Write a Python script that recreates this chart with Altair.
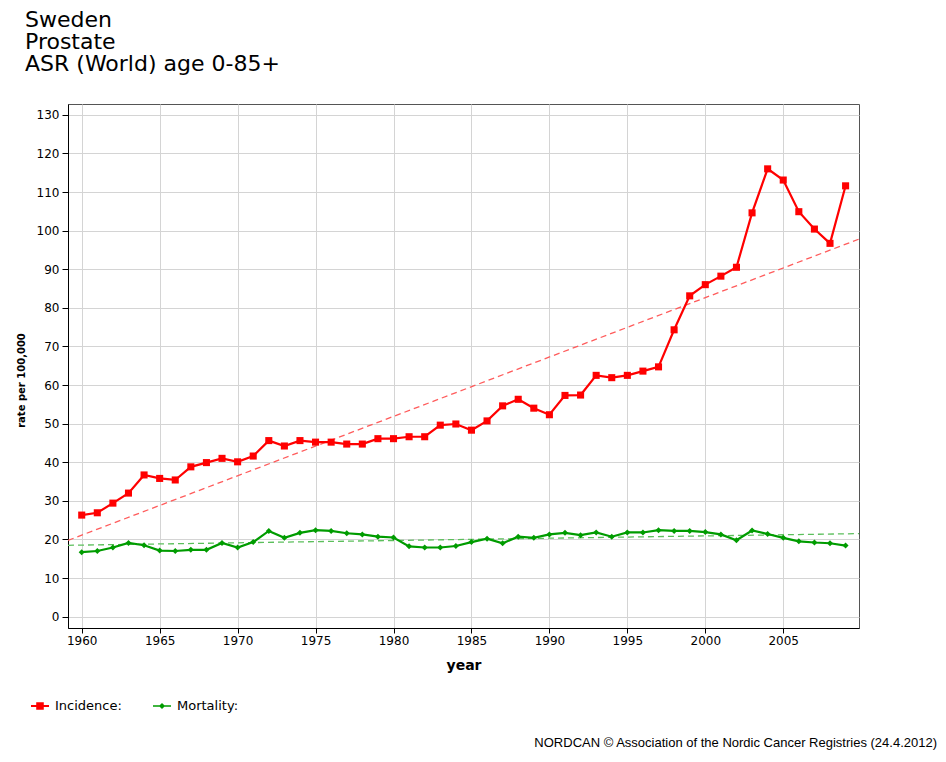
import altair as alt
import pandas as pd

# ---- data ----
years = list(range(1960, 2010))
incidence = [26.3, 26.9, 29.4, 32.0, 36.7, 35.8, 35.4, 38.8, 39.9, 41.0,
             40.1, 41.6, 45.6, 44.2, 45.6, 45.2, 45.2, 44.7, 44.7, 46.1,
             46.1, 46.6, 46.6, 49.6, 49.9, 48.3, 50.7, 54.6, 56.3, 54.0,
             52.3, 57.3, 57.4, 62.5, 61.9, 62.5, 63.6, 64.7, 74.3, 83.1,
             86.0, 88.2, 90.5, 104.6, 116.0, 113.1, 104.9, 100.4, 96.7, 111.6]
mortality = [16.7, 17.0, 17.9, 19.1, 18.5, 17.1, 17.0, 17.3, 17.3, 19.1,
             17.9, 19.3, 22.2, 20.4, 21.7, 22.4, 22.2, 21.6, 21.3, 20.7,
             20.5, 18.2, 17.9, 17.9, 18.3, 19.3, 20.2, 19.0, 20.7, 20.4,
             21.3, 21.7, 21.1, 21.8, 20.7, 21.8, 21.8, 22.4, 22.2, 22.2,
             21.9, 21.3, 19.8, 22.3, 21.4, 20.4, 19.5, 19.2, 19.0, 18.4]
series = ["Incidence", "Mortality"]
x_ticks = [1960, 1965, 1970, 1975, 1980, 1985, 1990, 1995, 2000, 2005]
y_ticks = [0, 10, 20, 30, 40, 50, 60, 70, 80, 90, 100, 110, 120, 130]
title_lines = ["Sweden", "Prostate", "ASR (World) age 0-85+"]
footer = ["NORDCAN \u00a9 Association of the Nordic Cancer Registries (24.4.2012)"]

df = pd.DataFrame({
    "year": years * 2,
    "rate": incidence + mortality,
    "series": [series[0]] * len(years) + [series[1]] * len(years),
})
legend_df = pd.DataFrame({"series": series})
footer_df = pd.DataFrame({"t": footer})

X_DOM = [1959.12, 2009.86]
Y_DOM = [-2.95, 132.8]
FONT = "DejaVu Sans"

x_enc = alt.X("year:Q",
              scale=alt.Scale(domain=X_DOM, nice=False, zero=False),
              axis=alt.Axis(values=x_ticks, format="d", title="year",
                            grid=True, gridColor="#d4d4d4", gridWidth=1,
                            domainColor="#000000", domainWidth=1,
                            tickColor="#000000", tickSize=5,
                            labelFont=FONT, labelFontSize=12, labelColor="#000000",
                            labelPadding=2, labelFlush=False,
                            titleFont=FONT, titleFontSize=14, titleFontWeight="bold",
                            titleColor="#000000", titlePadding=12))
y_enc = alt.Y("rate:Q",
              scale=alt.Scale(domain=Y_DOM, nice=False, zero=False),
              axis=alt.Axis(values=y_ticks, title="rate per 100,000",
                            grid=True, gridColor="#d4d4d4", gridWidth=1,
                            domainColor="#000000", domainWidth=1,
                            tickColor="#000000", tickSize=6,
                            labelFont=FONT, labelFontSize=12, labelColor="#000000",
                            labelPadding=3,
                            titleFont=FONT, titleFontSize=10, titleFontWeight="bold",
                            titleColor="#000000", titlePadding=10, titleY=276))

line_colors = alt.Scale(domain=series, range=["#ff0000", "#009c00"])
trend_colors = alt.Scale(domain=series, range=["#ff5c5c", "#5cbf5c"])

base = alt.Chart(df)

trend = base.transform_regression(
    "year", "rate", groupby=["series"], extent=X_DOM
).mark_line(strokeDash=[6, 4], strokeWidth=1.3, clip=True).encode(
    x=x_enc, y=y_enc,
    color=alt.Color("series:N", scale=trend_colors, legend=None),
)

lines = base.mark_line(strokeWidth=2.2, clip=True).encode(
    x=x_enc, y=y_enc,
    color=alt.Color("series:N", scale=line_colors, legend=None),
)

inc_pts = base.transform_filter(alt.datum.series == series[0]).mark_point(
    filled=True, opacity=1, shape="square", size=50, color="#ff0000"
).encode(x=x_enc, y=y_enc)

mort_pts = base.transform_filter(alt.datum.series == series[1]).mark_point(
    filled=True, opacity=1, shape="diamond", size=36, color="#009c00"
).encode(x=x_enc, y=y_enc)

path_inc = "M-1,-0.11H1V0.11H-1Z M-0.42,-0.42H0.42V0.42H-0.42Z"
path_mort = "M-1,-0.09H1V0.09H-1Z M0,-0.34L0.34,0L0,0.34L-0.34,0Z"

leg = alt.Legend(orient="none", legendX=-37, legendY=593, direction="horizontal",
                 title=None, symbolSize=324, symbolStrokeWidth=0,
                 labelFont=FONT, labelFontSize=13, labelColor="#000000",
                 labelExpr="datum.label + ':'", labelOffset=6,
                 columnPadding=31, padding=0)

legend_layer = alt.Chart(legend_df).transform_filter("false").mark_point(
    filled=True, opacity=1
).encode(
    color=alt.Color("series:N", scale=line_colors, legend=leg),
    shape=alt.Shape("series:N", scale=alt.Scale(domain=series, range=[path_inc, path_mort]),
                    legend=leg),
)

footer_layer = alt.Chart(footer_df).mark_text(
    align="right", baseline="alphabetic", font="Liberation Sans", fontSize=13, color="#000000"
).encode(text="t:N", x=alt.value(869), y=alt.value(643))

chart = alt.layer(trend, lines, inc_pts, mort_pts, legend_layer, footer_layer).resolve_scale(
    color="independent", shape="independent"
).properties(
    width=791, height=524,
    autosize=alt.AutoSizeParams(type="none"),
    padding={"left": 60, "top": 96, "right": 79, "bottom": 124},
    title=alt.TitleParams(text=title_lines, anchor="start", frame="group", orient="top",
                          dx=-43, offset=28, font=FONT, fontSize=22, lineHeight=22,
                          fontWeight="normal", color="#000000"),
    background="white",
).configure_view(stroke="#555555", strokeWidth=1)

chart.save("out.html", embed_options={"renderer": "svg", "actions": False})
